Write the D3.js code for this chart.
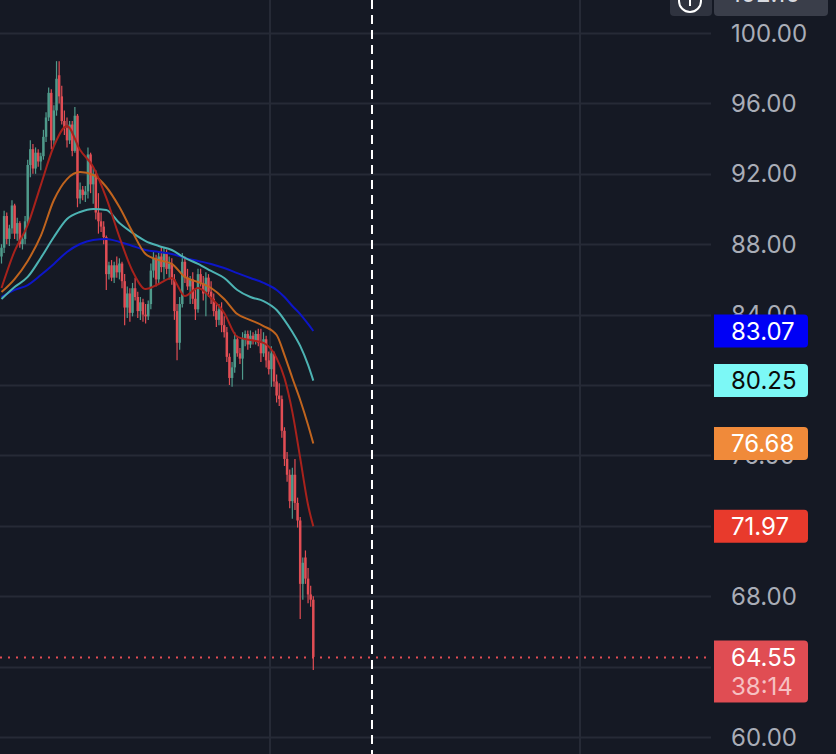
<!DOCTYPE html>
<html lang="en">
<head>
<meta charset="utf-8">
<title>Candles with moving averages</title>
<script src="https://d3js.org/d3.v7.min.js"></script>
<style>
  html, body { margin: 0; padding: 0; background: #151924; overflow: hidden; }
  svg { display: block; }
  text { font-family: Inter, "Noto Sans", sans-serif; }
</style>
</head>
<body>
<svg id="chart" width="836" height="754"></svg>
<script>
// candle data, one entry per bar
var opens  = [87.3,87.8,89.6,88.3,88.9,90.2,88.6,89.2,88.0,88.3,89.3,92.5,93.4,92.3,93.2,92.7,93.0,94.1,95.2,96.6,
              93.9,95.6,97.6,96.4,95.0,94.6,93.9,94.8,93.3,95.3,90.6,91.1,90.8,91.0,93.1,91.4,92.0,89.8,89.3,89.0,
              88.4,86.3,86.8,86.1,86.8,86.4,86.9,85.9,84.4,85.2,84.1,85.5,85.0,84.2,84.7,84.0,83.9,84.6,86.5,87.2,
              86.0,87.3,86.7,87.5,86.6,86.9,86.0,84.2,82.4,84.6,87.0,86.1,85.6,86.0,84.9,84.3,86.3,85.8,85.2,86.1,
              85.3,84.9,84.2,83.7,84.3,83.4,83.0,81.6,80.4,81.0,82.6,81.8,81.5,82.6,82.9,82.3,82.8,82.5,82.9,82.4,
              81.8,82.6,81.4,80.9,81.8,80.2,79.4,79.2,77.4,75.8,74.9,73.4,74.9,73.3,72.3,68.7,70.2,69.0,68.1,67.8];
var highs  = [88.0,89.9,89.8,89.1,90.5,90.3,89.5,89.3,88.5,89.6,92.8,93.9,93.7,93.5,93.4,93.2,94.5,95.5,96.9,96.8,
              95.9,98.4,98.4,97.0,95.6,95.2,95.0,95.0,95.8,95.4,91.5,91.3,91.3,93.5,93.2,92.4,92.2,90.9,89.8,89.3,
              88.5,87.0,87.1,87.0,87.3,87.2,87.0,86.3,85.6,85.5,85.8,86.1,85.3,85.0,84.9,84.6,84.8,86.9,87.6,87.4,
              87.6,87.9,87.8,87.7,87.3,87.2,86.3,84.6,85.0,87.5,87.3,86.6,86.2,86.4,85.4,86.6,86.6,86.2,86.4,86.3,
              85.9,85.2,84.6,84.6,84.7,83.9,83.3,81.8,81.3,83.0,82.8,82.1,83.0,83.1,83.1,83.1,83.0,83.1,83.2,83.2,
              83.0,82.8,81.9,82.2,81.9,80.6,80.1,79.4,77.6,76.2,75.2,75.3,75.8,73.6,72.5,70.2,70.6,69.6,68.6,68.0];
var lows   = [86.9,87.5,88.0,87.9,88.6,88.3,88.2,87.8,87.7,88.0,89.1,91.8,92.0,92.0,92.4,92.2,92.8,93.8,95.0,93.4,
              93.6,95.3,96.0,94.8,94.2,93.5,93.7,93.0,93.2,90.1,90.3,90.5,90.4,90.6,90.9,90.3,89.4,88.6,88.7,88.0,
              85.4,86.0,85.9,85.8,86.1,86.0,85.5,83.4,83.8,83.6,83.9,84.8,83.8,83.7,83.6,83.5,83.7,84.3,86.1,85.6,
              85.8,86.4,86.0,86.3,86.0,85.7,83.7,81.4,82.0,84.4,85.8,85.4,84.6,84.6,83.7,84.1,85.6,84.8,83.9,85.0,
              84.6,83.9,83.3,83.4,83.0,82.7,81.3,80.0,79.9,80.7,81.6,81.2,80.3,82.2,82.0,82.1,82.3,82.3,82.2,81.3,
              81.6,81.0,80.6,79.9,79.9,79.0,78.8,77.0,75.4,74.5,73.0,72.4,72.9,71.9,66.7,67.8,68.7,67.6,67.4,63.8];
var closes = [87.8,89.6,88.3,88.9,90.2,88.6,89.2,88.0,88.3,89.3,92.5,93.4,92.3,93.2,92.7,93.0,94.1,95.2,96.6,93.9,
              95.6,97.4,96.4,95.0,94.6,93.9,94.8,93.3,95.3,90.6,91.1,90.8,91.0,93.1,91.4,92.0,89.8,89.3,89.0,88.4,
              86.3,86.8,86.1,86.8,86.4,86.9,85.9,84.4,85.2,84.1,85.5,85.0,84.2,84.7,84.0,83.9,84.6,86.5,87.2,86.0,
              87.3,86.7,87.5,86.6,86.9,86.0,84.2,82.4,84.6,87.0,86.1,85.6,86.0,84.9,84.3,86.3,85.8,85.2,86.1,85.3,
              84.9,84.2,83.7,84.3,83.4,83.0,81.6,80.4,81.0,82.6,81.8,81.5,82.6,82.9,82.3,82.8,82.5,82.9,82.4,81.8,
              82.6,81.4,80.9,81.8,80.2,79.4,79.2,77.4,75.8,74.9,73.4,74.9,73.3,72.3,68.7,69.9,69.0,68.1,67.8,64.55];

// moving averages, sampled at these bar indices
var maIndex = [0,5,10,15,20,25,30,35,40,45,50,55,60,65,70,75,80,85,90,95,100,105,108,111,114,117,119];
var maFast  = [85.51,87.61,89.09,91.36,93.58,94.72,93.35,92.39,90.63,88.41,86.48,85.45,85.74,86.08,85.06,85.51,84.94,84.09,82.73,82.56,82.39,81.53,80.40,78.47,75.85,73.18,71.97];
var maMid   = [85.28,86.02,87.05,88.47,90.51,91.70,92.10,91.93,91.25,90.11,88.69,87.44,87.10,86.88,86.14,85.85,85.51,84.89,84.03,83.69,83.35,82.84,81.70,80.40,79.15,77.73,76.68];
var maSlow  = [84.89,85.57,86.14,87.22,88.41,89.43,89.83,90.00,89.94,89.20,88.64,88.18,87.90,87.67,87.22,86.88,86.48,86.08,85.40,85.00,84.77,84.26,83.69,83.01,82.22,81.14,80.25];
var maLong  = [85.00,85.40,85.68,86.25,86.88,87.56,88.01,88.24,88.30,88.13,87.90,87.67,87.56,87.44,87.22,87.05,86.88,86.65,86.36,86.08,85.80,85.40,85.00,84.49,84.03,83.47,83.07];

var priceTicks = [100, 96, 92, 88, 84, 80, 76, 72, 68, 64, 60];
var lastPrice = 64.55;
var countdown = "38:14";
var topPrice = "102.10";

var W = 836, H = 754, paneRight = 711;
var bg = "#151924", grid = "#262a36", upColor = "#4f9a8b", downColor = "#e14d54";

var svg = d3.select("#chart");
svg.append("rect").attr("width", W).attr("height", H).attr("fill", bg);

var y = d3.scaleLinear().domain([60, 100]).range([737, 33]);
var x = d3.scaleLinear().domain([0, closes.length - 1]).range([1.5, 313.3]);

// value tags on the price scale: [value, fill, text colour, height]
var tags = [
  [maLong[maLong.length - 1], "#0000f5", "#ffffff", 33],
  [maSlow[maSlow.length - 1], "#7cf8f6", "#0a0a0a", 33],
  [maMid[maMid.length - 1],   "#f08a3a", "#ffffff", 33],
  [maFast[maFast.length - 1], "#e83a2c", "#ffffff", 33],
  [lastPrice,                 "#e04d53", "#ffffff", 62]
];
function tagTop(t) { return y(t[0]) - 16.5; }

// grid
svg.append("g").selectAll("line").data(priceTicks).join("line")
  .attr("x1", 0).attr("x2", paneRight)
  .attr("y1", d => Math.round(y(d)) + 0.5).attr("y2", d => Math.round(y(d)) + 0.5)
  .attr("stroke", grid).attr("stroke-width", 2);
svg.append("g").selectAll("line").data([270, 580]).join("line")
  .attr("x1", d => d).attr("x2", d => d).attr("y1", 0).attr("y2", H)
  .attr("stroke", grid).attr("stroke-width", 2);

// axis labels (skip those a tag covers completely)
var shown = priceTicks.filter(function(d) {
  var cy = y(d);
  return !tags.some(t => cy - 9 >= tagTop(t) && cy + 9 <= tagTop(t) + t[3]);
});
svg.append("g").selectAll("text").data(shown).join("text")
  .attr("x", 731).attr("y", d => y(d)).attr("dy", "0.36em")
  .attr("font-size", 24).attr("fill", "#a9adb7")
  .text(d => d3.format(".2f")(d));

// candles
var bars = d3.range(closes.length);
var cg = svg.append("g");
cg.selectAll("line").data(bars).join("line")
  .attr("x1", i => x(i)).attr("x2", i => x(i))
  .attr("y1", i => y(highs[i])).attr("y2", i => y(lows[i]))
  .attr("stroke", i => closes[i] >= opens[i] ? upColor : downColor).attr("stroke-width", 1.2);
cg.selectAll("rect").data(bars).join("rect")
  .attr("x", i => x(i) - 1.25).attr("width", 2.5)
  .attr("y", i => y(Math.max(opens[i], closes[i])))
  .attr("height", i => Math.max(1, Math.abs(y(opens[i]) - y(closes[i]))))
  .attr("fill", i => closes[i] >= opens[i] ? upColor : downColor);

// moving averages
var line = d3.line().x(d => x(d[0])).y(d => y(d[1])).curve(d3.curveMonotoneX);
var mas = [
  { vals: maLong, color: "#0d16c8" },
  { vals: maSlow, color: "#4db3b3" },
  { vals: maMid,  color: "#c0641e" },
  { vals: maFast, color: "#a8221c" }
];
mas.forEach(function(m) {
  svg.append("path").attr("d", line(maIndex.map((i, k) => [i, m.vals[k]])))
    .attr("fill", "none").attr("stroke", m.color).attr("stroke-width", 2);
});

// last price dotted line
svg.append("line").attr("x1", 0).attr("x2", paneRight)
  .attr("y1", Math.round(y(lastPrice)) + 0.5).attr("y2", Math.round(y(lastPrice)) + 0.5)
  .attr("stroke", downColor).attr("stroke-width", 2).attr("stroke-dasharray", "2,6");

// dashed vertical marker
svg.append("line").attr("x1", 372).attr("x2", 372).attr("y1", 0).attr("y2", H)
  .attr("stroke", "#ffffff").attr("stroke-width", 2).attr("stroke-dasharray", "9,6");

// tags
tags.forEach(function(t) {
  var p = d3.path();
  var x0 = 714, x1 = 808, r = 4, top = tagTop(t), b = top + t[3];
  p.moveTo(x0, top); p.lineTo(x1 - r, top); p.quadraticCurveTo(x1, top, x1, top + r);
  p.lineTo(x1, b - r); p.quadraticCurveTo(x1, b, x1 - r, b); p.lineTo(x0, b); p.closePath();
  svg.append("path").attr("d", p.toString()).attr("fill", t[1]);
  svg.append("text").attr("x", 731).attr("y", y(t[0])).attr("dy", "0.36em")
    .attr("font-size", 24).attr("fill", t[2]).text(d3.format(".2f")(t[0]));
});
svg.append("text").attr("x", 731).attr("y", y(lastPrice) + 29).attr("dy", "0.36em")
  .attr("font-size", 24).attr("fill", "#f6c0c2").text(countdown);

// top-right cut-off controls
svg.append("rect").attr("x", 670).attr("y", -10).attr("width", 42).attr("height", 26).attr("rx", 4).attr("fill", "#2f333f");
svg.append("circle").attr("cx", 690).attr("cy", 1).attr("r", 11).attr("fill", "none").attr("stroke", "#ffffff").attr("stroke-width", 2);
svg.append("line").attr("x1", 690).attr("x2", 690).attr("y1", -4).attr("y2", 6).attr("stroke", "#ffffff").attr("stroke-width", 2);
svg.append("rect").attr("x", 714).attr("y", -10).attr("width", 114).attr("height", 26).attr("rx", 4).attr("fill", "#3a3e4a");
svg.append("text").attr("x", 731).attr("y", 2).attr("font-size", 24).attr("fill", "#d8dae0").text(topPrice);
</script>
</body>
</html>
